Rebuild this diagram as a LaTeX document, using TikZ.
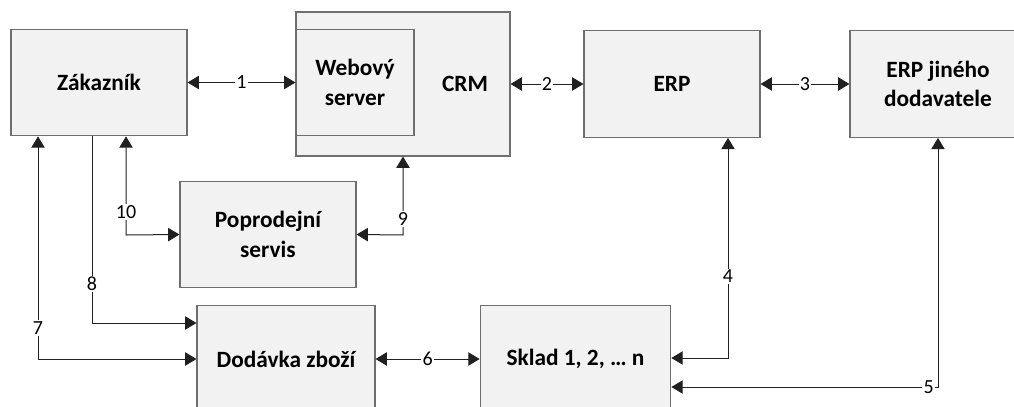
\documentclass[tikz,border=0pt]{standalone}
\usepackage{fontspec}
\setmainfont{Carlito}
\usetikzlibrary{arrows.meta}
\definecolor{boxfill}{HTML}{F2F2F2}
\definecolor{boxline}{HTML}{6E6E6E}
\definecolor{arrline}{HTML}{202020}
\tikzset{
  box/.style={draw=boxline,fill=boxfill,line width=0.8pt,minimum width=132pt,minimum height=80pt,
    align=center,font=\fontsize{17.5}{22}\selectfont\bfseries},
  boxtxt/.style={align=center,font=\fontsize{17.5}{22}\selectfont\bfseries},
  lbl/.style={fill=white,inner sep=1pt,font=\fontsize{15}{15}\selectfont},
  tip/.tip={Triangle[length=8.5pt,width=10pt]},
  arr/.style={draw=arrline,line width=0.75pt,-tip},
  biarr/.style={draw=arrline,line width=0.75pt,tip-tip}
}
\begin{document}
\begin{tikzpicture}[x=0.75pt,y=-0.75pt]
\useasboundingbox (0,0) rectangle (1014,407);
\clip (0,0) rectangle (1014,407);
% boxes
\node[box] (zak) at (99,82.5) {Zákazník};
\node[box,minimum width=160.5pt,minimum height=108pt] (crm) at (403,84) {};
\node[boxtxt] (crmtxt) at (465,84) {CRM};
\node[box,minimum width=88.5pt] (web) at (355,82.5) {Webový\\server};
\node[box] (erp) at (672,84) {ERP};
\node[box] (erpj) at (938,84) {ERP jiného\\dodavatele};
\node[box] (pop) at (268,234.5) {Poprodejní\\servis};
\node[box,minimum width=133.5pt] (dod) at (286,359) {Dodávka zboží};
\node[box,minimum width=143pt] (skl) at (575.5,359) {Sklad 1, 2, … n};
% bend points
\coordinate (c4) at (728,358);
\coordinate (c5) at (938,387);
\coordinate (c7) at (38,359);
\coordinate (c8) at (92,323);
\coordinate (c9) at (403,235);
\coordinate (c10) at (126,235);
% connectors
\draw[biarr] (zak.east) -- node[lbl]{1} (web.west);
\draw[biarr] (crm.east) -- node[lbl]{2} (erp.west);
\draw[biarr] (erp.east) -- node[lbl]{3} (erpj.west);
\draw[biarr] (erp.south -| c4) -- node[lbl,pos=0.63]{4} (c4) -- (c4 -| skl.east);
\draw[biarr] (erpj.south) -- (c5) -- node[lbl,pos=0.035]{5} (c5 -| skl.east);
\draw[biarr] (dod.east) -- node[lbl]{6} (skl.west);
\draw[biarr] (zak.south -| c7) -- node[lbl,pos=0.86]{7} (c7) -- (dod.west);
\draw[arr] (zak.south -| c8) -- node[lbl,pos=0.79]{8} (c8) -- (c8 -| dod.west);
\draw[biarr] (crm.south -| c9) -- node[lbl,pos=0.8]{9} (c9) -- (pop.east);
\draw[biarr] (zak.south -| c10) -- node[lbl,pos=0.77]{10} (c10) -- (pop.west);
\end{tikzpicture}
\end{document}
